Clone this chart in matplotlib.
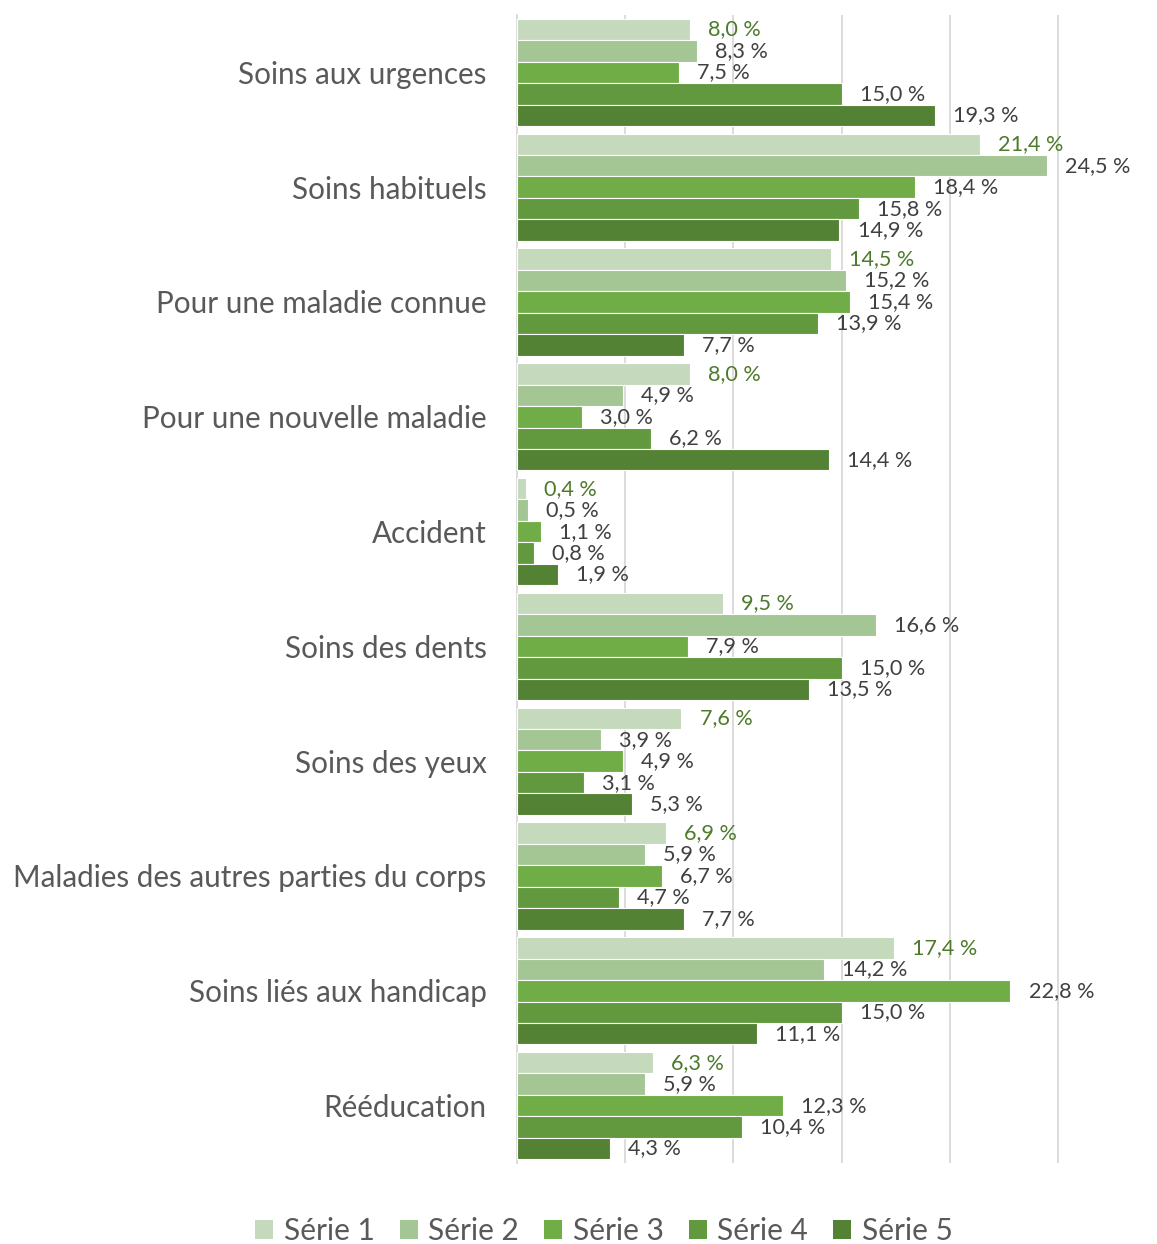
import matplotlib
matplotlib.use("Agg")
import matplotlib.pyplot as plt
import numpy as np
from matplotlib.patches import Patch

categories = ["Soins aux urgences", "Soins habituels", "Pour une maladie connue",
              "Pour une nouvelle maladie", "Accident", "Soins des dents",
              "Soins des yeux", "Maladies des autres parties du corps",
              "Soins liés aux handicap", "Rééducation"]
series_names = ["Série 1", "Série 2", "Série 3", "Série 4", "Série 5"]
serie1 = [8.0, 21.4, 14.5, 8.0, 0.4, 9.5, 7.6, 6.9, 17.4, 6.3]
serie2 = [8.3, 24.5, 15.2, 4.9, 0.5, 16.6, 3.9, 5.9, 14.2, 5.9]
serie3 = [7.5, 18.4, 15.4, 3.0, 1.1, 7.9, 4.9, 6.7, 22.8, 12.3]
serie4 = [15.0, 15.8, 13.9, 6.2, 0.8, 15.0, 3.1, 4.7, 15.0, 10.4]
serie5 = [19.3, 14.9, 7.7, 14.4, 1.9, 13.5, 5.3, 7.7, 11.1, 4.3]
series = [serie1, serie2, serie3, serie4, serie5]
colors = ["#C5D9BD", "#A4C594", "#70AD47", "#62993E", "#548235"]
label_colors = ["#4E7A2C", "#404040", "#404040", "#404040", "#404040"]

plt.rcParams['font.family'] = ['Lato', 'DejaVu Sans']

fig = plt.figure(figsize=(11.57, 12.44), dpi=100)
ax = fig.add_axes([517/1157, 1 - 1163/1244, 1 - 517/1157, (1163 - 15)/1244])

y = np.arange(len(categories))
h = 0.1865
for i, (vals, c) in enumerate(zip(series, colors)):
    pos = y + (i - 2) * h
    ax.barh(pos, vals, height=h, color=c, edgecolor='white', linewidth=0.8, zorder=3)
    for p, v in zip(pos, vals):
        ax.annotate(f"{v:.1f} %".replace('.', ','), xy=(v, p), xytext=(13, 0),
                    textcoords='offset points', va='center', ha='left',
                    fontsize=15.6, color=label_colors[i], zorder=4)

ax.set_xlim(0, 29.57)
ax.set_ylim(9.5, -0.5)
ax.set_xticks([0, 5, 10, 15, 20, 25])
ax.set_xticklabels([])
ax.tick_params(axis='x', length=0)
ax.grid(axis='x', color='#D9D9D9', linewidth=1.3, zorder=0)
ax.set_yticks(y)
ax.set_yticklabels(categories, fontsize=21.3, color='#595959')
ax.tick_params(axis='y', length=0, pad=22)
for s in ['top', 'right', 'bottom']:
    ax.spines[s].set_visible(False)
ax.spines['left'].set_color('#D9D9D9')
ax.spines['left'].set_linewidth(1.3)

handles = [Patch(facecolor=c, edgecolor='none') for c in colors]
fig.legend(handles, series_names, loc='center', bbox_to_anchor=(0.522, 1 - 1231/1244),
           ncol=5, frameon=False, fontsize=21.5, labelcolor='#595959',
           handlelength=0.6, handleheight=0.6, handletextpad=0.35, columnspacing=0.85)

fig.savefig("out.png", dpi=100)
